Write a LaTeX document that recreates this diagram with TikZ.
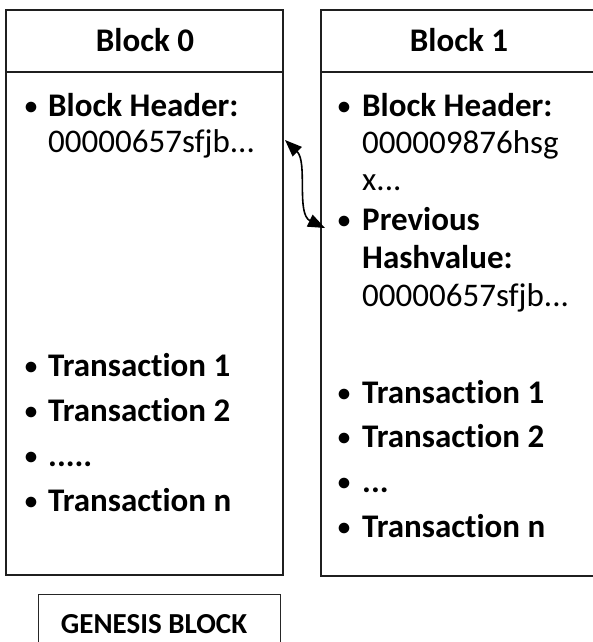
\documentclass[tikz,border=0pt]{standalone}
\usepackage{fontspec}
\setmainfont{Carlito}[Ligatures=NoCommon,RawFeature={-liga,-clig,-calt}]
\usetikzlibrary{arrows.meta}
\newcommand\myti{t\kern0pt i}
\begin{document}
\begin{tikzpicture}[x=1pt,y=1pt,
  boxline/.style={draw=black!88, line width=2pt},
  genline/.style={draw=black!85, line width=1pt},
  txt/.style={inner sep=0pt, anchor=base west, font=\fontsize{33}{36}\selectfont},
  bul/.style={inner sep=0pt, anchor=base, font=\fontsize{25}{30}\selectfont\bfseries},
  ttl/.style={inner sep=0pt, anchor=base, font=\fontsize{33}{36}\selectfont\bfseries},
  link/.style={line width=1.6pt, black, {Triangle[length=17pt,width=13pt]}-{Triangle[length=17pt,width=13pt]}}
]
\useasboundingbox (0,0) rectangle (592,-642);
% Block 0
\draw[boxline] (6,-10) rectangle (283,-575);
\draw[boxline] (6,-72) -- (283,-72);
\node[ttl] (t0) at (145,-52) {Block 0};
\node[bul] (b01) at (31,-114) {•};
\node[txt] (l01) at (48,-116) {\textbf{Block Header:}};
\node[txt] (l02) at (48,-152) {00000657sfjb...};
\node[bul] (b02) at (31,-374) {•};
\node[txt] (l03) at (48,-376) {\textbf{Transac\myti on 1}};
\node[bul] (b03) at (31,-419) {•};
\node[txt] (l04) at (48,-421) {\textbf{Transac\myti on 2}};
\node[bul] (b04) at (31,-464) {•};
\node[txt] (l05) at (48,-466) {\textbf{.....}};
\node[bul] (b05) at (31,-509) {•};
\node[txt] (l06) at (48,-511) {\textbf{Transac\myti on n}};
% Block 1
\draw[boxline] (321,-10) rectangle (598,-576);
\draw[boxline] (321,-72) -- (598,-72);
\node[ttl] (t1) at (459,-52) {Block 1};
\node[bul] (b11) at (344,-114) {•};
\node[txt] (r01) at (362,-116) {\textbf{Block Header:}};
\node[txt] (r02) at (362,-153) {000009876hsg};
\node[txt] (r03) at (362,-190) {x...};
\node[bul] (b12) at (344,-228) {•};
\node[txt] (r04) at (362,-230) {\textbf{Previous}};
\node[txt] (r05) at (362,-268) {\textbf{Hashvalue:}};
\node[txt] (r06) at (362,-306) {00000657sfjb...};
\node[bul] (b13) at (344,-401) {•};
\node[txt] (r07) at (362,-403) {\textbf{Transac\myti on 1}};
\node[bul] (b14) at (344,-445) {•};
\node[txt] (r08) at (362,-447) {\textbf{Transac\myti on 2}};
\node[bul] (b15) at (344,-490) {•};
\node[txt] (r09) at (362,-492) {\textbf{...}};
\node[bul] (b16) at (344,-535) {•};
\node[txt] (r10) at (362,-537) {\textbf{Transac\myti on n}};
% Genesis
\draw[genline] (38,-594) rectangle (280,-660);
\node[inner sep=0pt, anchor=base, font=\fontsize{29}{32}\selectfont\bfseries] (gen) at (154,-633) {GENESIS BLOCK};
% link
\coordinate (ea) at (285,-140);
\coordinate (eb) at (325,-228);
\draw[link] (ea) .. controls (308,-162) and (296,-214) .. (eb);
\end{tikzpicture}
\end{document}
